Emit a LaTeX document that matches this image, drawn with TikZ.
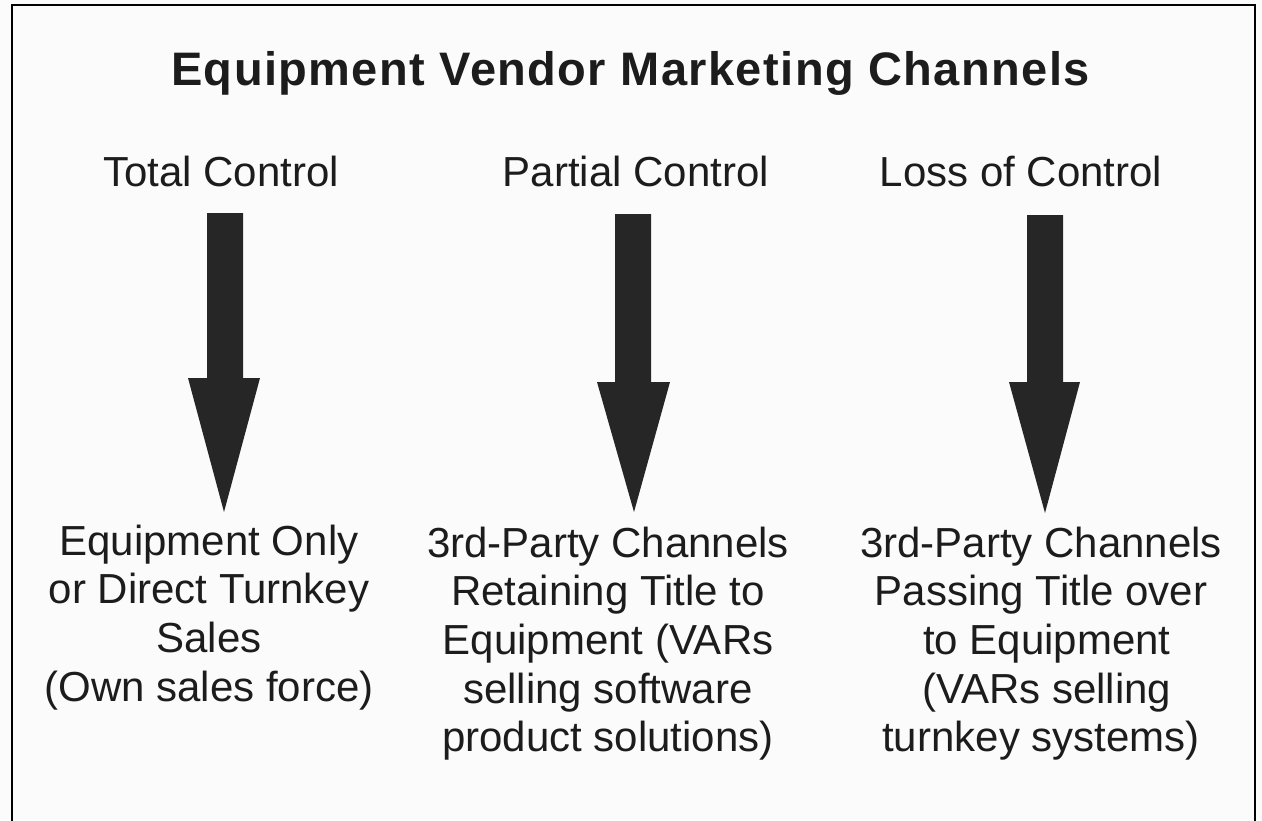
\documentclass[tikz,border=0pt]{standalone}
\usepackage{fontspec}
\setmainfont{Liberation Sans}
\begin{document}
\begin{tikzpicture}[x=1pt,y=-1pt,
  every node/.style={inner sep=0pt,outer sep=0pt,text=inkcol},
  titletext/.style={anchor=base,font=\fontsize{47}{53}\selectfont\bfseries\addfontfeature{LetterSpace=3}},
  headtext/.style={anchor=base,font=\fontsize{42}{48.7}\selectfont},
  bodytext/.style={anchor=base,font=\fontsize{42}{48.7}\selectfont},
  blockarrow/.style={fill=arrowcol,draw=none},
  frameline/.style={draw=black,line width=2pt}]
\definecolor{inkcol}{HTML}{1C1C1C}
\definecolor{arrowcol}{HTML}{262626}
\definecolor{papercol}{HTML}{FBFBFB}

% page and frame (open at the bottom edge)
\fill[papercol] (0,0) rectangle (1262,820);
\useasboundingbox (0,0) rectangle (1262,820);
\draw[frameline] (12,822) -- (12,5) -- (1255,5) -- (1255,822);

% title
\node[titletext] (title) at (630.5,85) {Equipment Vendor Marketing Channels};

% column headings
\node[headtext] (total)   at (221,186)  {Total Control};
\node[headtext] (partial) at (636,186)  {Partial Control};
\node[headtext] (loss)    at (1021,186) {Loss of Control};

% block arrows: shaft left/right, top, head line, head left/right, tip
\newcommand{\blockarrow}[8]{%
  \fill[blockarrow] (#1,#3) -- (#2,#3) -- (#2,#4) -- (#6,#4) -- (#7,#8) -- (#5,#4) -- (#1,#4) -- cycle;}
\blockarrow{207}{243}{213}{378}{188}{260}{224}{512}
\blockarrow{615}{651}{214}{382}{597}{670}{634}{512}
\blockarrow{1027}{1063}{215}{382}{1009}{1080}{1045}{513}

% channel descriptions
\node[bodytext] (own) at (209,555) {\begin{tabular}[t]{@{}c@{}}Equipment Only\\or Direct Turnkey\\Sales\\(Own sales force)\end{tabular}};
\node[bodytext] (retain) at (608,557) {\begin{tabular}[t]{@{}c@{}}3rd-Party Channels\\Retaining Title to\\Equipment (VARs\\selling software\\product solutions)\end{tabular}};
\node[bodytext] (pass) at (1041,557) {\begin{tabular}[t]{@{}c@{}}3rd-Party Channels\\Passing Title over\\\ to Equipment\\\ (VARs selling\\turnkey systems)\end{tabular}};
\end{tikzpicture}
\end{document}
